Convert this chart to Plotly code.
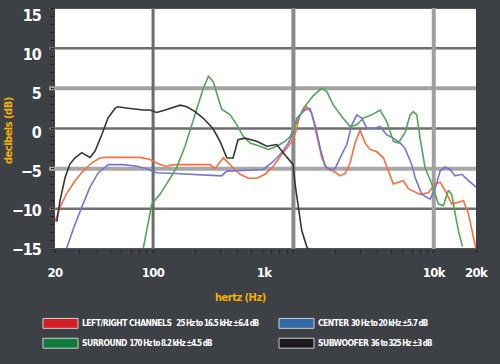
import math
import plotly.graph_objects as go

# ---------------- data ----------------
lr_freq = [20, 21.7, 24.2, 27.8, 31.7, 36.5, 41.9, 47.7, 61, 80.7, 95, 106, 122, 143, 183, 255, 276, 317,
           363, 417, 477, 548, 628, 719, 826, 920, 994, 1027, 1115, 1245, 1351, 1467, 1592, 1729, 1926,
           2150, 2333, 2534, 2750, 2986, 3240, 3518, 3926, 4375, 4750, 5157, 5598, 6078, 6596, 6975,
           7992, 9158, 10218, 11096, 12042, 13444, 14982, 16266, 17654, 19166, 19936]
lr_db = [-11.6, -9.8, -8.1, -6.5, -5.3, -4.3, -3.65, -3.6, -3.6, -3.6, -3.85, -4.3, -4.7, -4.5, -4.5, -4.5,
         -5.0, -3.65, -4.7, -5.7, -6.2, -6.2, -5.7, -4.7, -3.2, -2.2, -1.3, -0.7, 1.7, 2.7, 1.9, -0.8,
         -3.65, -5.0, -5.3, -5.9, -5.6, -4.3, -1.8, -0.2, -1.8, -2.6, -2.9, -3.65, -5.3, -6.9, -6.7,
         -6.5, -7.5, -7.7, -8.2, -8.0, -6.9, -6.7, -7.7, -9.4, -9.2, -9.0, -10.6, -13.5, -14.9]

center_freq = [24.2, 27.0, 31.0, 35.5, 40.7, 48.0, 61.3, 76.5, 90, 106, 143, 205, 308, 335, 518, 610,
               719, 826, 920, 994, 1056, 1210, 1314, 1427, 1549, 1681, 1825, 1980, 2150, 2400, 2606,
               2829, 3070, 3333, 3818, 4146, 4626, 5157, 5754, 6250, 6975, 7361, 8218, 9416, 10218,
               11096, 12042, 13077, 14196, 15845, 17198, 18672, 20000]
center_db = [-14.9, -12.5, -9.8, -7.3, -5.5, -4.5, -4.5, -4.7, -5.0, -5.5, -5.6, -5.7, -5.9, -5.3, -5.1,
             -5.1, -4.1, -3.0, -1.8, -0.6, 1.3, 2.3, 2.5, 0.45, -2.4, -4.7, -5.1, -5.0, -3.65, -2.0,
             0.45, 1.7, 1.3, 0.04, 0.04, 0.25, -0.8, -1.2, -1.8, -2.5, -4.5, -6.1, -8.2, -8.8, -7.5,
             -5.3, -4.8, -5.1, -5.9, -5.7, -6.3, -6.9, -7.3]

surround_freq = [85.2, 92.5, 97.8, 112, 128, 147, 169, 193, 216, 228, 248, 269, 292, 308, 354, 395,
                 440, 491, 578, 663, 760, 872, 946, 1027, 1177, 1387, 1592, 1729, 1926, 2210, 2534,
                 2829, 3152, 3618, 4146, 4626, 5157, 5598, 6250, 6782, 7158, 7568, 7992, 8674, 9682,
                 10790, 11712, 12716, 13444, 14196, 14982, 16004]
surround_db = [-14.9, -11.4, -9.4, -8.2, -6.5, -4.9, -2.2, 1.0, 3.6, 5.0, 6.5, 5.8, 3.7, 2.4, 1.7,
               0.45, -1.0, -1.8, -2.2, -2.6, -2.2, -1.6, -1.0, 0.3, 2.5, 4.1, 5.0, 4.6, 2.9, 1.5,
               0.25, 0.45, 1.3, 1.7, 2.3, 0.86, -1.6, -1.8, -0.5, 1.7, 2.1, 1.7, -1.2, -4.9, -6.9,
               -9.4, -9.6, -7.7, -8.2, -10.6, -12.7, -14.7]

sub_freq = [20.6, 21.7, 23.6, 25.6, 27.8, 31, 35.5, 38.6, 43, 47.7, 53.5, 56, 68.5, 85, 95, 106, 122,
            143, 156, 174, 199, 227, 267, 300, 335, 371, 403, 452, 548, 645, 760, 843, 946, 994, 1027,
            1079, 1146, 1244, 1277]
sub_db = [-11.6, -9.0, -6.1, -4.4, -3.65, -3.0, -3.6, -2.8, -0.8, 1.3, 2.5, 2.7, 2.5, 2.3, 2.3, 2.0,
          2.3, 2.7, 2.9, 2.7, 2.1, 1.3, 0.0, -1.6, -3.65, -3.7, -1.4, -1.2, -1.6, -2.2, -2.0, -3.0,
          -4.1, -4.5, -6.9, -9.8, -12.7, -14.7, -15.0]

x_label_vals = [20, 100, 618, 10000, 20000]
x_label_text = ["20", "100", "1k", "10k", "20k"]
y_label_vals = [15, 10, 5, 0, -5, -10, -15]

legend_names = ["LEFT/RIGHT CHANNELS", "CENTER", "SURROUND", "SUBWOOFER"]
legend_specs = ["25 Hz to 16.5 kHz \u00b16.4 dB", "30 Hz to 20 kHz \u00b15.7 dB",
                "170 Hz to 8.2 kHz \u00b14.5 dB", "36 to 325 Hz \u00b13 dB"]
legend_colors = ["#d21f27", "#2f6aa6", "#0e7a3b", "#1d1a1b"]

# ---------------- figure ----------------
W, H = 500, 364
L, R, T, B = 55, 24, 6, 115
PW, PH = W - L - R, H - T - B


def px(xp):
    return (xp - L) / PW


def py(yp):
    return (H - B - yp) / PH


def tight(s, ls):
    return "<span style='letter-spacing:%spx'>%s</span>" % (ls, s)


FONT = "Liberation Sans Narrow, DejaVu Sans Condensed, Arial Narrow, sans-serif"

fig = go.Figure()
series = [
    (lr_freq, lr_db, "#ff6b3f"),
    (center_freq, center_db, "#7474d4"),
    (surround_freq, surround_db, "#55a457"),
    (sub_freq, sub_db, "#353535"),
]
for f, d, c in series:
    fig.add_trace(go.Scatter(x=f, y=d, mode="lines", line=dict(color=c, width=1.6),
                             showlegend=False, hoverinfo="skip"))

minor_x = []
for dec in [10, 100, 1000, 10000]:
    for k in range(1, 10):
        v = dec * k
        if 20 <= v <= 20000:
            minor_x.append(v)

shapes = []
hgrid = {10: ("#6f6f6f", 2.5), 5: ("#a3a3a3", 4), 0: ("#6f6f6f", 2.5), -5: ("#a8a8a8", 4),
         -10: ("#6f6f6f", 2.5), 15: ("#555555", 2), -15: ("#555555", 2)}
for v, (c, w) in hgrid.items():
    shapes.append(dict(type="line", xref="paper", yref="y", x0=-0.014, x1=1, y0=v, y1=v,
                       line=dict(color=c, width=w), layer="below"))
vgrid = {100: ("#6c6c6c", 3), 1000: ("#8a8a8a", 4), 10000: ("#a0a0a0", 4)}
for v, (c, w) in vgrid.items():
    shapes.append(dict(type="line", xref="x", yref="paper", x0=v, x1=v, y0=0, y1=1,
                       line=dict(color=c, width=w), layer="below"))

annotations = []
pos = [(43, 324), (279, 324), (43, 344), (279, 344)]
for name, spec, col, (bx, by) in zip(legend_names, legend_specs, legend_colors, pos):
    shapes.append(dict(type="rect", xref="paper", yref="paper", x0=px(bx), x1=px(bx + 35),
                       y0=py(by + 5), y1=py(by - 5), fillcolor=col,
                       line=dict(color="#d0d0d0", width=1)))
    sep = "  " if name.startswith("LEFT") else " "
    txt = ("<b><span style='letter-spacing:-0.5px'>" + name + "</span></b>" + sep +
           "<span style='font-size:8px;letter-spacing:-0.95px'><b>" + spec + "</b></span>")
    annotations.append(dict(xref="paper", yref="paper", x=px(bx + 37), y=py(by), text=txt,
                            showarrow=False, xanchor="left", yanchor="middle",
                            font=dict(family=FONT, size=8.5, color="white")))

annotations.append(dict(xref="paper", yref="paper", x=px(240), y=py(298),
                        text="<b>" + tight("hertz (Hz)", -0.5) + "</b>",
                        showarrow=False, xanchor="center", yanchor="middle",
                        font=dict(family=FONT, size=11, color="#f4b400")))
annotations.append(dict(xref="paper", yref="paper", x=px(9), y=py(130),
                        text="<b>" + tight("decibels (dB)", -0.5) + "</b>",
                        showarrow=False, xanchor="center", yanchor="middle", textangle=-90,
                        font=dict(family=FONT, size=11, color="#f4b400")))

xr = [math.log10(20), math.log10(20000)]
fig.update_layout(
    width=W, height=H,
    margin=dict(l=L, r=R, t=T, b=B),
    paper_bgcolor="#3d4045",
    plot_bgcolor="white",
    shapes=shapes,
    annotations=annotations,
    xaxis=dict(type="log", range=xr, tickvals=minor_x, ticks="outside", ticklen=3,
               tickcolor="#1e1e1e", showticklabels=False, showgrid=False, zeroline=False,
               showline=False, fixedrange=True),
    xaxis2=dict(type="log", range=xr, overlaying="x", anchor="y", side="bottom",
                tickvals=x_label_vals, ticktext=[tight(t, -0.6) for t in x_label_text],
                ticks="outside", ticklen=11,
                tickcolor="rgba(0,0,0,0)", showgrid=False, zeroline=False, showline=False,
                tickfont=dict(family=FONT, size=13, color="white", weight="bold")),
    yaxis=dict(range=[-15, 15], tickvals=list(range(-15, 16)), ticks="outside", ticklen=3,
               tickcolor="#1e1e1e", showticklabels=False, showgrid=False, zeroline=False,
               showline=False),
    yaxis2=dict(range=[-15, 15.89], overlaying="y", anchor="x", side="left",
                tickvals=y_label_vals,
                ticktext=[tight(("\u2212" + str(-v)) if v < 0 else str(v), -1) for v in y_label_vals],
                ticks="outside", ticklen=10, tickcolor="rgba(0,0,0,0)", showgrid=False,
                zeroline=False, showline=False,
                tickfont=dict(family=FONT, size=16, color="white", weight="bold")),
)
fig.add_trace(go.Scatter(x=[20], y=[0], xaxis="x2", yaxis="y2", mode="markers",
                         marker=dict(opacity=0), showlegend=False, hoverinfo="skip"))
fig.write_html("out.html", config={"displayModeBar": False},
               post_script="document.body.style.margin='0';document.body.style.overflow='hidden';")
